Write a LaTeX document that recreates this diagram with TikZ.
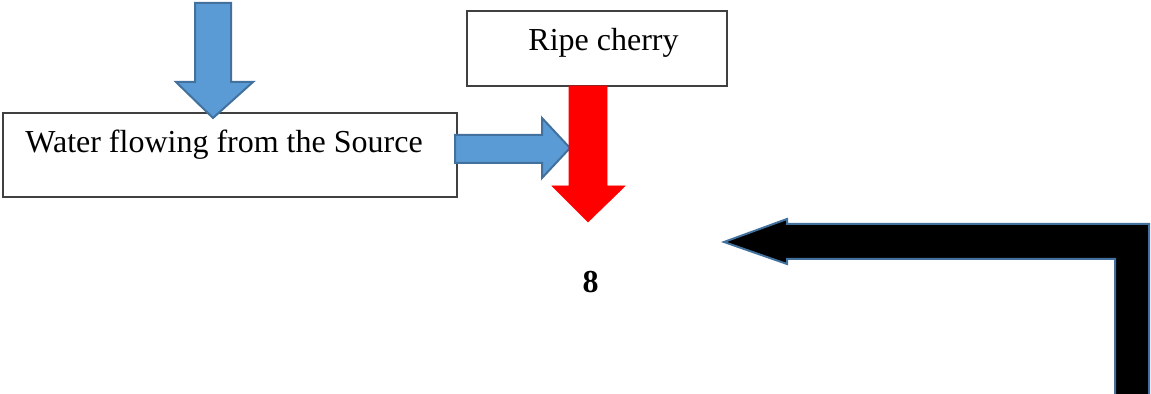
\documentclass[tikz,border=0pt]{standalone}
\usepackage{fontspec}
\setmainfont{Liberation Serif}
\definecolor{blueFill}{HTML}{5B9BD5}
\definecolor{blueEdge}{HTML}{41719C}
\tikzset{
  box/.style={draw=black!75, line width=0.7pt, fill=white, inner sep=0pt},
  lbl/.style={inner sep=0pt, font=\fontsize{16}{19}\selectfont},
  bluearrow/.style={fill=blueFill, draw=blueEdge, line width=1pt, line join=miter},
  redarrow/.style={fill=red, draw=red, line width=0.3pt},
  blackarrow/.style={fill=black, draw=blueEdge, line width=1pt, line join=miter}
}
\begin{document}
\begin{tikzpicture}[x=0.5pt,y=-0.5pt]
\useasboundingbox (0,0) rectangle (1151,394);
% boxes
\node[box, minimum width=227pt, minimum height=42pt] (water) at (230,155) {};
\node[lbl, anchor=base west] (waterlbl) at (25,153) {Water flowing from the Source};
\node[box, minimum width=130pt, minimum height=37.5pt] (cherry) at (597,48.5) {};
\node[lbl, anchor=base west] (cherrylbl) at (528,51) {Ripe cherry};
\node[lbl, anchor=base, font=\fontsize{16}{19}\selectfont\bfseries] (eight) at (590.5,293) {8};
% blue down arrow into water box
\draw[bluearrow] (195,3) -- (231,3) -- (231,82) -- (253,82) -- (213,118) -- (176,82) -- (195,82) -- cycle;
% blue right arrow
\draw[bluearrow] (455,135) -- (542,135) -- (542,118) -- (570,148) -- (542,178) -- (542,163) -- (455,163) -- cycle;
% red down arrow from ripe cherry
\draw[redarrow] (569,86) -- (607,86) -- (607,186) -- (625,186) -- (588,222) -- (552,186) -- (569,186) -- cycle;
% black bent arrow
\draw[blackarrow] (724,242) -- (787,219) -- (787,224) -- (1149,224) -- (1149,398) -- (1115,398) -- (1115,259) -- (787,259) -- (787,264) -- cycle;
\end{tikzpicture}
\end{document}
